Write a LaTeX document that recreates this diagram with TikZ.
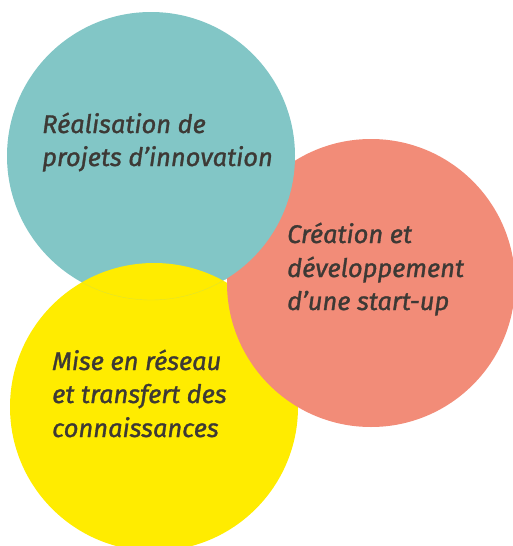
\documentclass[tikz,border=0pt]{standalone}
\usepackage{fontspec}
\newfontfamily\handfont{Fira Sans}[FakeBold=1.2]
\definecolor{tealc}{HTML}{82C6C6}
\definecolor{salmonc}{HTML}{F28C78}
\definecolor{yellowc}{HTML}{FFEC00}
\definecolor{inkc}{HTML}{3D3935}
\begin{document}
\begin{tikzpicture}[x=1pt,y=-1pt,
  lbl/.style={anchor=base west, inner sep=0pt, text=inkc,
    font=\handfont\itshape\fontsize{25.5}{30}\selectfont}]
\useasboundingbox (0,0) rectangle (513,546);
\clip (0,0) rectangle (513,546);
\coordinate (cT) at (151,156);
\coordinate (cS) at (371,283);
\coordinate (cY) at (154,407);
% teal circle
\fill[tealc] (cT) circle[radius=144];
% yellow circle over teal
\fill[yellowc] (cY) circle[radius=144];
\begin{scope}
  \clip (cY) circle[radius=144];
  \draw[yellowc!75!tealc, line width=0.4pt] (cT) circle[radius=144];
\end{scope}
% salmon circle over yellow
\fill[salmonc] (cS) circle[radius=144];
% teal over salmon (clip slightly enlarged to avoid a seam)
\begin{scope}
  \clip (cS) circle[radius=146];
  \fill[tealc] (cT) circle[radius=144];
\end{scope}
% texts
\node[lbl] (t1) at (42,133) {Réalisation de};
\node[lbl] (t2) at (42,166) {projets d’innovation};
\node[lbl] (s1) at (287,243) {Création et};
\node[lbl] (s2) at (287,277) {développement};
\node[lbl] (s3) at (287,310) {d’une start-up};
\node[lbl] (y1) at (52,370) {Mise en réseau};
\node[lbl] (y2) at (52,403) {et transfert des};
\node[lbl] (y3) at (52,437) {connaissances};
\end{tikzpicture}
\end{document}
